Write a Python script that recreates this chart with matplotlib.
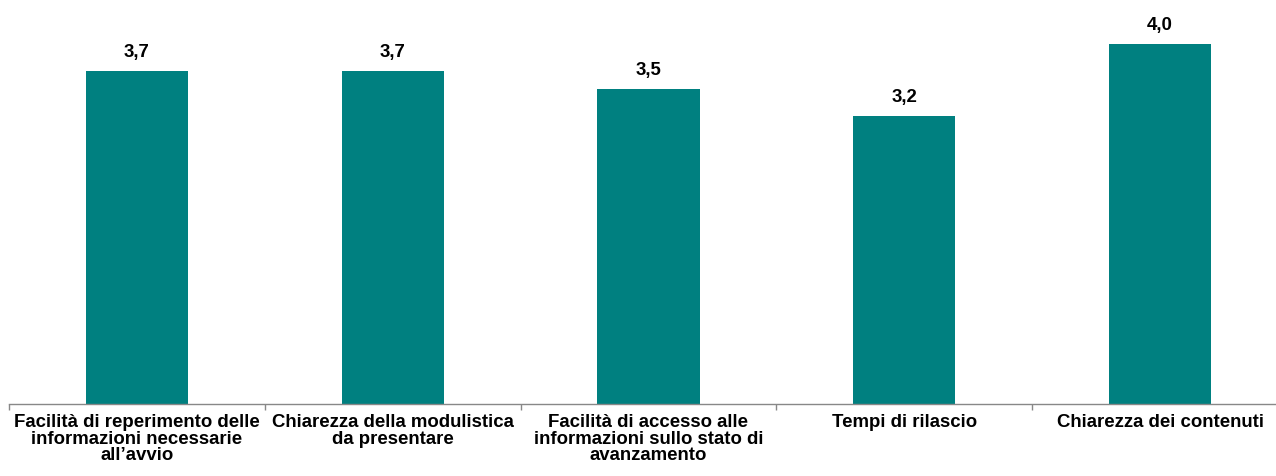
import matplotlib
matplotlib.use("Agg")
import matplotlib.pyplot as plt
import numpy as np

categories = [
    "Facilità di reperimento delle\ninformazioni necessarie\nall’avvio",
    "Chiarezza della modulistica\nda presentare",
    "Facilità di accesso alle\ninformazioni sullo stato di\navanzamento",
    "Tempi di rilascio",
    "Chiarezza dei contenuti",
]
values = [3.7, 3.7, 3.5, 3.2, 4.0]

plt.rcParams['font.family'] = ['Liberation Sans', 'DejaVu Sans']

W, H = 1276, 476
fig = plt.figure(figsize=(W / 100, H / 100), dpi=100)
x0, x1 = 9, 1288
y0 = 404
ax = fig.add_axes([x0 / W, (H - y0) / H, (x1 - x0) / W, (y0 - 0) / H])

x = np.arange(len(values))
bars = ax.bar(x, values, width=0.4, color="#008080")
ax.set_xlim(-0.5, len(values) - 0.5)
ax.set_ylim(0, 404 / 90)

for xi, v in zip(x, values):
    ax.text(xi, v + 0.11, f"{v:.1f}".replace(".", ","), ha="center", va="bottom",
            fontsize=13.4, fontweight="bold", color="#000000")

for s in ["top", "right", "left"]:
    ax.spines[s].set_visible(False)
ax.spines["bottom"].set_color("#888888")
ax.spines["bottom"].set_linewidth(1.0)
ax.set_yticks([])
ax.set_xticks(x)
ax.set_xticklabels(categories, fontsize=13.4, fontweight="bold", linespacing=0.94)
ax.tick_params(axis="x", which="major", length=0, pad=7.5)
ax.set_xticks(np.arange(-0.5, len(values), 1.0), minor=True)
ax.tick_params(axis="x", which="minor", length=4, color="#888888", width=1.0)

fig.savefig("out.png", dpi=100)
